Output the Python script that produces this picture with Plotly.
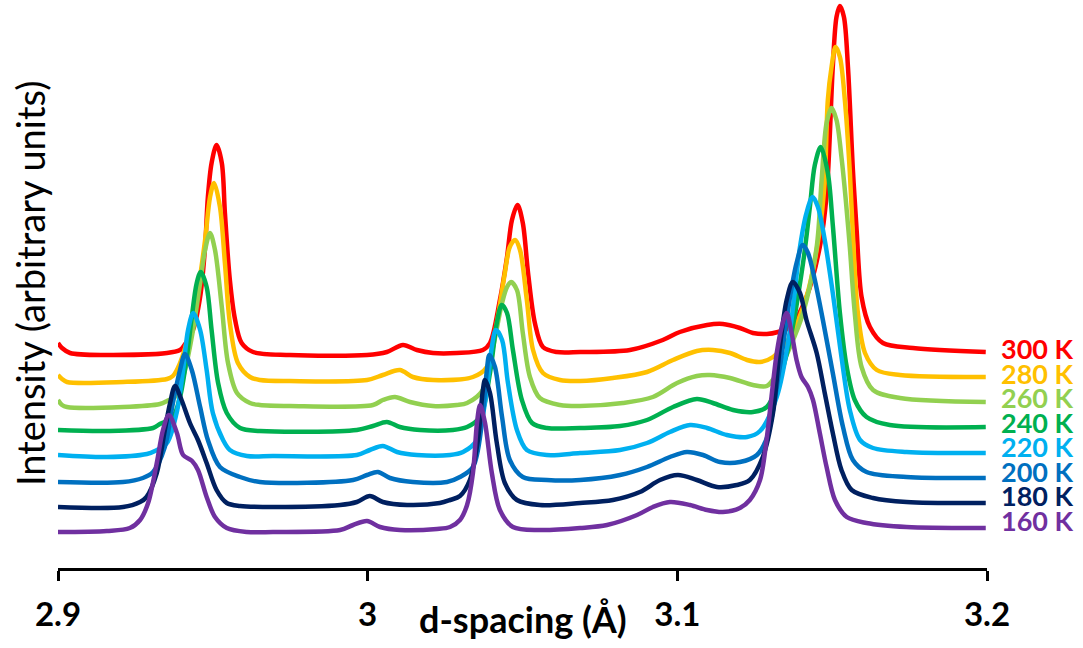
import plotly.graph_objects as go

# ---------------- data ----------------
temperatures = ["300 K", "280 K", "260 K", "240 K", "220 K", "200 K", "180 K", "160 K"]
colors = ["#FF0000", "#FFC000", "#92D050", "#00B050", "#00B0F0", "#0070C0", "#002060", "#7030A0"]

d_300 = [2.9000, 2.9013, 2.9039, 2.9158, 2.9352, 2.9394, 2.9404, 2.9436, 2.9459, 2.9475,
         2.9484, 2.9496, 2.9512, 2.9529, 2.9539, 2.9555, 2.9572, 2.9593, 2.9630, 2.9749,
         2.9998, 3.0062, 3.0114, 3.0159, 3.0211, 3.0288, 3.0372, 3.0395, 3.0427, 3.0450,
         3.0466, 3.0484, 3.0501, 3.0518, 3.0540, 3.0566, 3.0611, 3.0686, 3.0847, 3.0953,
         3.1008, 3.1096, 3.1147, 3.1202, 3.1244, 3.1289, 3.1325, 3.1364, 3.1417, 3.1460,
         3.1482, 3.1502, 3.1514, 3.1525, 3.1538, 3.1551, 3.1567, 3.1579, 3.1595, 3.1622,
         3.1664, 3.1761, 3.1996]
i_300 = [225, 220, 215, 213, 215, 218, 221, 238, 271, 321,
         371, 405, 423, 405, 355, 288, 248, 225, 216, 213,
         213, 216, 223, 218, 215, 215, 218, 225, 268, 311,
         348, 363, 345, 295, 245, 221, 216, 216, 218, 228,
         236, 243, 244, 240, 235, 234, 236, 241, 271, 321,
         373, 501, 551, 562, 551, 501, 398, 338, 271, 241,
         225, 220, 216]

d_280 = [2.9000, 2.9013, 2.9029, 2.9210, 2.9352, 2.9371, 2.9394, 2.9426, 2.9452, 2.9475,
         2.9491, 2.9504, 2.9523, 2.9539, 2.9555, 2.9581, 2.9620, 2.9652, 2.9749, 2.9998,
         3.0049, 3.0104, 3.0146, 3.0211, 3.0340, 3.0385, 3.0417, 3.0443, 3.0459, 3.0476,
         3.0492, 3.0514, 3.0534, 3.0566, 3.0621, 3.0686, 3.0792, 3.0902, 3.0986, 3.1063,
         3.1115, 3.1170, 3.1225, 3.1267, 3.1309, 3.1364, 3.1417, 3.1460, 3.1476, 3.1486,
         3.1498, 3.1511, 3.1525, 3.1541, 3.1557, 3.1567, 3.1583, 3.1606, 3.1644, 3.1719,
         3.1996]
i_280 = [193, 189, 186, 186, 189, 192, 205, 238, 278, 328,
         371, 385, 361, 305, 245, 205, 191, 188, 187, 188,
         193, 198, 191, 188, 191, 201, 245, 295, 321, 328,
         318, 268, 218, 195, 188, 187, 190, 196, 208, 217,
         218, 215, 208, 206, 211, 231, 271, 338, 388, 468,
         501, 521, 511, 468, 396, 333, 255, 215, 198, 193,
         191]

d_260 = [2.9000, 2.9013, 2.9029, 2.9210, 2.9329, 2.9352, 2.9384, 2.9410, 2.9436, 2.9459,
         2.9475, 2.9491, 2.9507, 2.9529, 2.9549, 2.9578, 2.9620, 2.9652, 2.9749, 3.0017,
         3.0049, 3.0088, 3.0137, 3.0211, 3.0288, 3.0321, 3.0372, 3.0405, 3.0434, 3.0450,
         3.0463, 3.0482, 3.0501, 3.0524, 3.0556, 3.0621, 3.0686, 3.0824, 3.0921, 3.0999,
         3.1063, 3.1105, 3.1170, 3.1244, 3.1289, 3.1325, 3.1364, 3.1406, 3.1450, 3.1466,
         3.1482, 3.1498, 3.1514, 3.1530, 3.1544, 3.1557, 3.1573, 3.1595, 3.1632, 3.1719,
         3.1996]
i_260 = [168, 163, 161, 161, 164, 167, 173, 198, 238, 285,
         318, 335, 318, 261, 205, 175, 165, 163, 162, 163,
         168, 171, 166, 162, 163, 165, 178, 221, 265, 281,
         286, 278, 235, 191, 170, 163, 162, 165, 171, 185,
         192, 193, 190, 183, 182, 196, 221, 255, 321, 388,
         445, 460, 448, 411, 368, 321, 255, 201, 178, 170,
         166]

d_240 = [2.9000, 2.9158, 2.9307, 2.9329, 2.9371, 2.9394, 2.9416, 2.9432, 2.9448, 2.9461,
         2.9480, 2.9496, 2.9517, 2.9545, 2.9588, 2.9652, 2.9965, 3.0017, 3.0062, 3.0104,
         3.0169, 3.0275, 3.0321, 3.0363, 3.0395, 3.0417, 3.0433, 3.0450, 3.0469, 3.0498,
         3.0531, 3.0579, 3.0686, 3.0815, 3.0902, 3.0986, 3.1063, 3.1115, 3.1180, 3.1244,
         3.1289, 3.1321, 3.1364, 3.1406, 3.1428, 3.1444, 3.1463, 3.1486, 3.1502, 3.1525,
         3.1547, 3.1573, 3.1611, 3.1686, 3.1996]
i_240 = [138, 137, 140, 144, 151, 171, 211, 251, 285, 296,
         281, 238, 185, 155, 140, 137, 138, 142, 146, 141,
         138, 138, 141, 151, 195, 245, 263, 255, 218, 168,
         145, 140, 140, 142, 148, 161, 169, 165, 158, 156,
         161, 181, 228, 305, 361, 403, 421, 395, 343, 255,
         201, 168, 151, 143, 141]

d_220 = [2.9000, 2.9158, 2.9287, 2.9313, 2.9352, 2.9383, 2.9404, 2.9420, 2.9437, 2.9459,
         2.9480, 2.9500, 2.9533, 2.9555, 2.9610, 2.9694, 2.9965, 3.0007, 3.0049, 3.0095,
         3.0159, 3.0266, 3.0308, 3.0353, 3.0372, 3.0385, 3.0401, 3.0414, 3.0434, 3.0453,
         3.0482, 3.0514, 3.0579, 3.0686, 3.0815, 3.0902, 3.0976, 3.1041, 3.1096, 3.1160,
         3.1225, 3.1267, 3.1321, 3.1364, 3.1396, 3.1417, 3.1437, 3.1454, 3.1476, 3.1502,
         3.1530, 3.1557, 3.1590, 3.1632, 3.1740, 3.1996]
i_220 = [113, 111, 114, 117, 125, 155, 198, 238, 255, 238,
         198, 155, 128, 118, 112, 112, 113, 118, 122, 116,
         113, 113, 116, 128, 153, 178, 221, 238, 228, 185,
         138, 118, 113, 115, 118, 125, 136, 143, 140, 133,
         131, 137, 171, 238, 321, 355, 371, 361, 328, 275,
         211, 158, 128, 120, 116, 115]

d_200 = [2.9000, 2.9210, 2.9274, 2.9307, 2.9345, 2.9371, 2.9394, 2.9410, 2.9432, 2.9459,
         2.9484, 2.9523, 2.9588, 2.9652, 2.9953, 2.9998, 3.0033, 3.0072, 3.0146, 3.0256,
         3.0298, 3.0340, 3.0369, 3.0385, 3.0393, 3.0411, 3.0434, 3.0459, 3.0501, 3.0579,
         3.0686, 3.0815, 3.0902, 3.0976, 3.1031, 3.1083, 3.1138, 3.1202, 3.1257, 3.1289,
         3.1331, 3.1364, 3.1385, 3.1405, 3.1422, 3.1444, 3.1470, 3.1502, 3.1535, 3.1567,
         3.1611, 3.1740, 3.1996]
i_200 = [86, 86, 90, 96, 121, 165, 198, 214, 198, 161,
         128, 101, 91, 86, 88, 93, 96, 90, 86, 86,
         91, 101, 145, 198, 213, 201, 151, 108, 91, 88,
         88, 93, 101, 111, 116, 113, 106, 106, 113, 130,
         201, 271, 305, 323, 315, 288, 248, 195, 141, 108,
         96, 91, 90]

d_180 = [2.9000, 2.9210, 2.9265, 2.9286, 2.9319, 2.9345, 2.9362, 2.9378, 2.9399, 2.9426,
         2.9452, 2.9480, 2.9512, 2.9545, 2.9588, 2.9694, 2.9911, 2.9965, 3.0007, 3.0049,
         3.0127, 3.0233, 3.0266, 3.0298, 3.0330, 3.0356, 3.0372, 3.0379, 3.0395, 3.0417,
         3.0443, 3.0482, 3.0556, 3.0686, 3.0792, 3.0879, 3.0944, 3.1002, 3.1063, 3.1128,
         3.1192, 3.1234, 3.1276, 3.1309, 3.1331, 3.1353, 3.1373, 3.1396, 3.1417, 3.1450,
         3.1476, 3.1502, 3.1530, 3.1563, 3.1632, 3.1740, 3.1996]
i_180 = [61, 61, 66, 71, 95, 138, 165, 182, 168, 145,
         128, 105, 78, 65, 62, 61, 63, 66, 72, 66,
         63, 65, 68, 72, 88, 128, 178, 188, 175, 125,
         85, 68, 63, 65, 68, 76, 88, 93, 88, 81,
         83, 88, 111, 155, 221, 268, 286, 275, 248, 215,
         175, 135, 98, 78, 70, 66, 65]

d_160 = [2.9000, 2.9158, 2.9232, 2.9265, 2.9291, 2.9319, 2.9339, 2.9358, 2.9384, 2.9404,
         2.9433, 2.9452, 2.9480, 2.9507, 2.9545, 2.9610, 2.9694, 2.9911, 2.9953, 2.9998,
         3.0040, 3.0104, 3.0224, 3.0266, 3.0298, 3.0321, 3.0340, 3.0353, 3.0363, 3.0379,
         3.0401, 3.0427, 3.0469, 3.0556, 3.0686, 3.0773, 3.0870, 3.0921, 3.0976, 3.1041,
         3.1096, 3.1147, 3.1202, 3.1234, 3.1267, 3.1288, 3.1304, 3.1321, 3.1337, 3.1353,
         3.1369, 3.1385, 3.1401, 3.1422, 3.1438, 3.1460, 3.1482, 3.1509, 3.1547, 3.1611,
         3.1740, 3.1996]
i_160 = [36, 37, 40, 48, 65, 105, 138, 153, 135, 113,
         107, 98, 71, 51, 40, 36, 36, 38, 43, 47,
         41, 38, 39, 41, 48, 63, 95, 145, 163, 145,
         95, 58, 41, 38, 40, 43, 53, 61, 66, 63,
         58, 56, 60, 68, 88, 128, 171, 215, 241, 255,
         235, 208, 191, 181, 168, 135, 101, 68, 51, 45,
         41, 40]

d_series = [d_300, d_280, d_260, d_240, d_220, d_200, d_180, d_160]
i_series = [i_300, i_280, i_260, i_240, i_220, i_200, i_180, i_160]

x_ticks = [2.9, 3.0, 3.1, 3.2]
x_tick_text = ["2.9", "3", "3.1", "3.2"]

# ---------------- layout constants ----------------
label_levels = [220, 195, 171, 146, 122, 97, 73, 48]
Y_MAX = 568

fig = go.Figure()
for d, inten, name, col in zip(d_series, i_series, temperatures, colors):
    fig.add_trace(go.Scatter(
        x=d, y=inten, mode="lines", name=name,
        line=dict(color=col, width=4.5, shape="spline", smoothing=0.9),
        showlegend=False, hoverinfo="x+y+name",
    ))

for name, col, lvl in zip(temperatures, colors, label_levels):
    fig.add_annotation(
        x=1.013, xref="paper", y=lvl, yref="y", text=name, showarrow=False,
        xanchor="left", yanchor="middle",
        font=dict(family="Lato", size=27, color=col, weight="bold"),
    )

fig.add_annotation(
    x=-0.0301, xref="paper", y=0.5, yref="paper", text="Intensity (arbitrary units)",
    textangle=-90, showarrow=False, xanchor="center", yanchor="middle",
    font=dict(family="Lato", size=38, color="black"),
)
fig.add_annotation(
    x=0.5, xref="paper", y=-0.09, yref="paper", text="d-spacing (Å)",
    showarrow=False, xanchor="center", yanchor="middle",
    font=dict(family="Lato", size=36, color="black", weight="bold"),
)

fig.update_layout(
    width=1083, height=648,
    margin=dict(l=58, r=96, t=0, b=80, pad=0),
    paper_bgcolor="white", plot_bgcolor="white",
    xaxis=dict(
        range=[2.9, 3.2], tickvals=x_ticks, ticktext=x_tick_text,
        showline=True, linecolor="black", linewidth=2.5,
        ticks="outside", ticklen=10, tickwidth=2.5, tickcolor="black",
        ticklabelstandoff=6,
        tickfont=dict(family="Lato", size=33, color="black", weight="bold"),
        showgrid=False, zeroline=False,
    ),
    yaxis=dict(range=[0, Y_MAX], visible=False, showgrid=False, zeroline=False),
)

fig.write_html("out.html", config={"displayModeBar": False},
               post_script="document.body.style.margin='0px';")
